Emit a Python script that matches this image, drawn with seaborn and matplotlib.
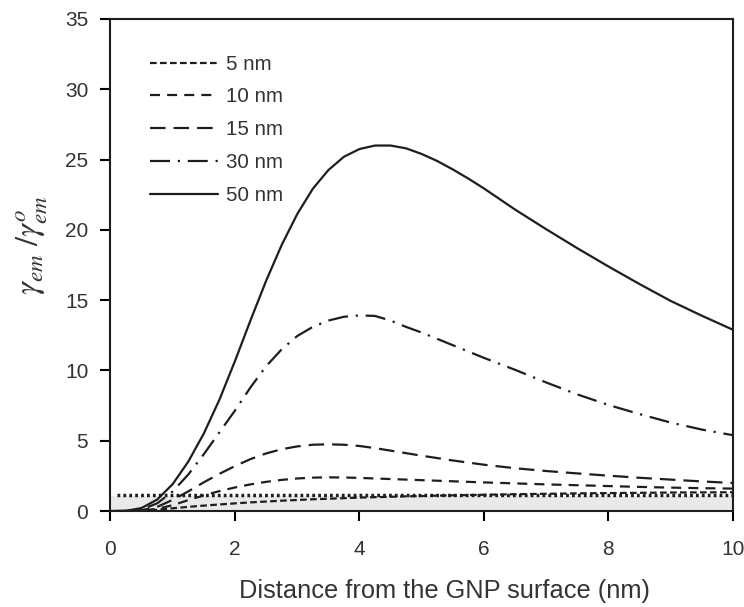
import numpy as np
import pandas as pd
import matplotlib
matplotlib.use("Agg")
import matplotlib.pyplot as plt
from matplotlib.ticker import MultipleLocator
import seaborn as sns

# ---- data ----
distance = [0, 0.25, 0.5, 0.75, 1.0, 1.25, 1.5, 1.75, 2.0, 2.25, 2.5, 2.75, 3.0, 3.25,
            3.5, 3.75, 4.0, 4.25, 4.5, 4.75, 5.0, 5.25, 5.5, 5.75, 6.0,
            6.5, 7.0, 7.5, 8.0, 8.5, 9.0, 9.5, 10.0]

nm5 = [0, 0.002, 0.02, 0.09, 0.2, 0.3, 0.39, 0.47, 0.55, 0.62, 0.68, 0.74, 0.79, 0.84,
       0.88, 0.92, 0.96, 0.99, 1.02, 1.05, 1.07, 1.1, 1.12, 1.14, 1.16,
       1.2, 1.23, 1.26, 1.28, 1.3, 1.32, 1.33, 1.34]
nm10 = [0, 0.003, 0.035, 0.16, 0.42, 0.78, 1.12, 1.42, 1.68, 1.9, 2.08, 2.22, 2.32, 2.38,
        2.4, 2.39, 2.36, 2.32, 2.28, 2.24, 2.2, 2.16, 2.12, 2.08, 2.04,
        1.97, 1.9, 1.84, 1.78, 1.72, 1.67, 1.63, 1.6]
nm15 = [0, 0.005, 0.06, 0.3, 0.8, 1.4, 2.05, 2.65, 3.2, 3.7, 4.1, 4.4, 4.6, 4.72,
        4.75, 4.72, 4.63, 4.48, 4.3, 4.12, 3.94, 3.77, 3.6, 3.45, 3.3,
        3.05, 2.85, 2.68, 2.52, 2.37, 2.24, 2.11, 2.0]
nm30 = [0, 0.01, 0.12, 0.55, 1.4, 2.6, 4.05, 5.6, 7.15, 8.8, 10.3, 11.5, 12.45, 13.1,
        13.55, 13.82, 13.92, 13.88, 13.55, 13.1, 12.7, 12.25, 11.8, 11.35, 10.9,
        10.05, 9.15, 8.3, 7.55, 6.9, 6.3, 5.8, 5.4]
nm50 = [0, 0.02, 0.22, 0.82, 1.92, 3.52, 5.52, 7.92, 10.67, 13.57, 16.37, 18.92, 21.12, 22.92,
        24.25, 25.2, 25.75, 26.0, 26.0, 25.8, 25.4, 24.9, 24.3, 23.65, 22.95,
        21.45, 20.05, 18.7, 17.4, 16.15, 14.95, 13.9, 12.9]

series_names = ["5 nm", "10 nm", "15 nm", "30 nm", "50 nm"]
series_values = [nm5, nm10, nm15, nm30, nm50]

reference_level = 1.12     # horizontal dotted reference line
reference_start = 0.1
band_top = 1.05            # grey shaded band

x_tick_step = 2
y_tick_step = 5

df = pd.DataFrame({
    "distance": np.tile(distance, len(series_names)),
    "value": np.concatenate(series_values),
    "size": np.repeat(series_names, len(distance)),
})

# ---- plotting ----
sns.set_theme(style="ticks")
plt.rcParams["font.family"] = ["Liberation Sans", "DejaVu Sans"]
plt.rcParams["mathtext.fontset"] = "stix"

fig = plt.figure(figsize=(7.44, 6.07), dpi=100)
ax = fig.add_axes([0.1485, 0.158, 0.8365, 0.8107])

ink = "#1e1e1e"
txt = "#333333"
dashes = {
    "5 nm": (3, 1.5),
    "10 nm": (4.5, 3.2),
    "15 nm": (7, 3.6),
    "30 nm": (9, 3.5, 1, 3.5),
    "50 nm": "",
}

sns.lineplot(data=df, x="distance", y="value", hue="size", style="size",
             hue_order=series_names, style_order=series_names,
             palette=[ink] * 5, dashes=dashes, lw=1.6, ax=ax, legend=True)

ax.axhspan(0, band_top, color="#e9e9e9", lw=0, zorder=0)
ax.hlines(reference_level, reference_start, 10, colors=ink,
          linestyles=(0, (0.8, 0.9)), lw=2.5, zorder=1)

ax.set_xlim(0, 10)
ax.set_ylim(0, 35)
ax.xaxis.set_major_locator(MultipleLocator(x_tick_step))
ax.yaxis.set_major_locator(MultipleLocator(y_tick_step))

ax.tick_params(axis="x", which="major", direction="out", length=7, width=1.5,
               color="black", labelsize=15, labelcolor=txt, pad=14)
ax.tick_params(axis="y", which="major", direction="out", length=7, width=1.5,
               color="black", labelsize=15, labelcolor=txt, pad=9)
for s in ax.spines.values():
    s.set_color(ink)
    s.set_linewidth(1.5)

ax.set_xlabel("Distance from the GNP surface (nm)", fontsize=18.3, color=txt,
              labelpad=14, x=0.536)
ax.set_ylabel(r"$\gamma_{em}\ /\gamma_{em}^{o}$", fontsize=23.5, color=txt,
              labelpad=11, y=0.54)

leg = ax.legend(loc="upper left", bbox_to_anchor=(0.034, 0.965), frameon=False,
                fontsize=14.8, handlelength=3.3, handletextpad=0.39,
                labelspacing=0.67, labelcolor=txt)
for h in leg.get_lines():
    h.set_linewidth(1.6)

fig.savefig("out.png", dpi=100)
